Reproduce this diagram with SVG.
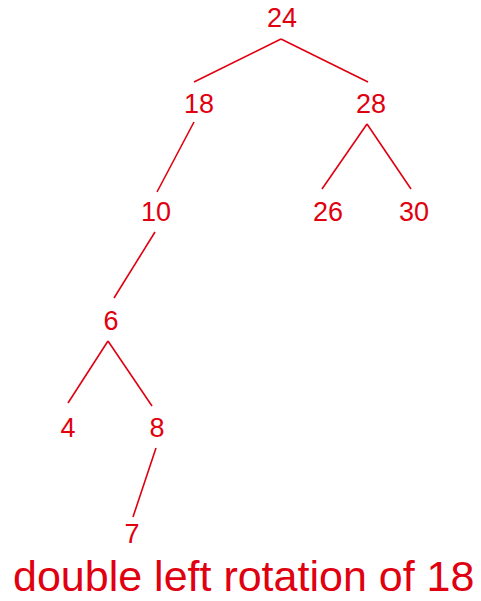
<svg xmlns="http://www.w3.org/2000/svg" width="481" height="601" viewBox="0 0 481 601">
<style>
.n{font-family:"Liberation Sans",Arial,sans-serif;font-size:27px;fill:#e00010;text-anchor:middle}
.e line{stroke:#e00010;stroke-width:1.6;fill:none}
.t{font-family:"Liberation Sans",Arial,sans-serif;font-size:43px;fill:#e00010}
</style>
<rect width="481" height="601" fill="#fff"/>
<g class="e" id="connectors">
<line x1="281" y1="39" x2="194" y2="82"/>
<line x1="281" y1="39" x2="368" y2="82"/>
<line x1="194" y1="122" x2="157" y2="192"/>
<line x1="367" y1="124" x2="322" y2="189"/>
<line x1="367" y1="124" x2="411" y2="189"/>
<line x1="155" y1="232" x2="114" y2="298"/>
<line x1="108" y1="341" x2="68" y2="403"/>
<line x1="108" y1="341" x2="152" y2="406"/>
<line x1="156" y1="448" x2="133" y2="517"/>
</g>
<g id="n24"><text class="n" x="282" y="27">24</text></g>
<g id="n18"><text class="n" x="199" y="113">18</text></g>
<g id="n28"><text class="n" x="371" y="113">28</text></g>
<g id="n10"><text class="n" x="156" y="221">10</text></g>
<g id="n26"><text class="n" x="328" y="221">26</text></g>
<g id="n30"><text class="n" x="414" y="221">30</text></g>
<g id="n6"><text class="n" x="111" y="330">6</text></g>
<g id="n4"><text class="n" x="68" y="437">4</text></g>
<g id="n8"><text class="n" x="157" y="437">8</text></g>
<g id="n7"><text class="n" x="132" y="543">7</text></g>
<g id="caption"><text class="t" x="13" y="591">double left rotation of 18</text></g>
</svg>
